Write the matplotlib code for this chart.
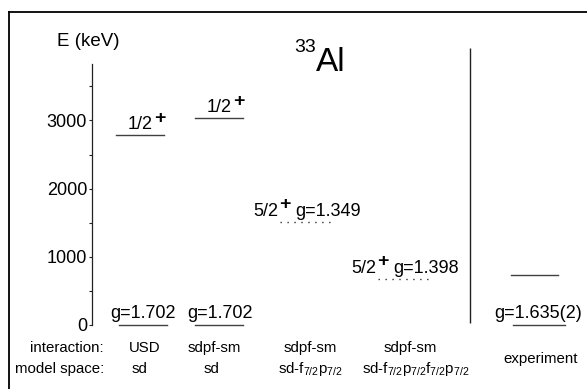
import matplotlib.pyplot as plt
from matplotlib.lines import Line2D

plt.rcParams['font.family'] = ['Liberation Sans', 'DejaVu Sans']
plt.rcParams['mathtext.fontset'] = 'custom'
plt.rcParams['mathtext.rm'] = 'Liberation Sans'
plt.rcParams['mathtext.it'] = 'Liberation Sans'

# level scheme of 33Al
interactions = ["USD", "sdpf-sm", "sdpf-sm", "sdpf-sm"]
model_spaces = ["sd", "sd", r"sd-f$_{7/2}$p$_{7/2}$",
                r"sd-f$_{7/2}$p$_{7/2}$f$_{7/2}$p$_{7/2}$"]
spins = ["1/2", "1/2", "5/2", "5/2", None]
excited_e = [2780, 3030, 1510, 670, 730]        # keV
g_factors = ["1.702", "1.702", "1.349", "1.398", "1.635(2)"]
ground_drawn = [True, True, False, False, True]
yticks = [0, 1000, 2000, 3000]

# layout (x in pixels of the 587 px wide figure)
xs_exc = [(116, 164), (195, 243), (280, 331), (378, 432), (511, 558)]
xs_gnd = [(119, 167), (195, 243), None, None, (513, 565)]
g_x = [110, 187, None, None, 494]
dotted = [False, False, True, True, False]
x_inter = [145, 214, 310, 410]
x_model = [139, 212, 310, 416]

W, H = 587, 389
fig = plt.figure(figsize=(W / 100, H / 100), dpi=100)
ax = fig.add_axes([0, 0, 1, 1])
ax.set_facecolor('none')

# energy axis: 0 keV at y=324.5 px, 0.068 px per keV
y0, scale = 324.5, 0.068
ax.set_xlim(0, W)
ax.set_ylim((y0 - H) / scale, y0 / scale)


def fy(pix):
    return 1 - pix / H


for s in ['top', 'right', 'bottom']:
    ax.spines[s].set_visible(False)
ax.spines['left'].set_position(('data', 92))
ax.spines['left'].set_bounds(0, 3835)
ax.spines['left'].set_linewidth(0.9)
ax.spines['left'].set_color('#222222')
ax.set_xticks([])
ax.set_yticks(yticks)
ax.set_yticks([500, 1500, 2500, 3500], minor=True)
ax.tick_params(axis='y', which='both', direction='out', length=2.5,
               width=0.8, labelsize=13, pad=1, color='#222222')

# frame
fig.add_artist(Line2D([9 / W, 1], [fy(12), fy(12)], color='black', lw=1.3))
fig.add_artist(Line2D([9 / W, 9 / W], [fy(12), 0], color='black', lw=1.3))

tr = ax.get_xaxis_transform()
ax.text(57, fy(46), "E (keV)", transform=tr, fontsize=13.5, va='baseline')
ax.text(294, fy(52), "33", transform=tr, fontsize=14, va='baseline')
ax.text(316, fy(71), "Al", transform=tr, fontsize=24, va='baseline')

# separator between theory and experiment
ax.vlines(470, 20, (y0 - 48) / scale, color='#222222', lw=1.0)

lc = '#404040'
for i, e in enumerate(excited_e):
    x1, x2 = xs_exc[i]
    if dotted[i]:
        ax.plot([x1, x2], [e, e], color='#333333', lw=1.0, ls=(0, (1, 4)))
    else:
        ax.plot([x1, x2], [e, e], color=lc, lw=1.0)
    if ground_drawn[i]:
        gx1, gx2 = xs_gnd[i]
        ax.plot([gx1, gx2], [0, 0], color=lc, lw=1.0)
        ax.annotate("g=" + g_factors[i], (g_x[i], 0), xytext=(0, 4.5),
                    textcoords='offset points', fontsize=13, va='baseline')

    if spins[i] is None:
        continue
    x_lab = x1 + 12 if not dotted[i] else x1 - 27
    t = ax.annotate(spins[i], (x_lab, e), xytext=(0, 4.5),
                    textcoords='offset points', fontsize=13, va='baseline')
    p = ax.annotate("+", xy=(1, 0), xycoords=t, xytext=(0.5, 4.5),
                    textcoords='offset points', fontsize=14, va='bottom',
                    fontweight='bold')
    if dotted[i]:
        ax.annotate("g=" + g_factors[i], xy=(1, 0), xycoords=p,
                    xytext=(4, -4.5), textcoords='offset points',
                    fontsize=13, va='bottom')

ax.text(104, fy(352), "interaction:", transform=tr, ha='right',
        va='baseline', fontsize=10.8)
ax.text(104, fy(373), "model space:", transform=tr, ha='right',
        va='baseline', fontsize=10.8)
for x, s in zip(x_inter, interactions):
    ax.text(x, fy(352), s, transform=tr, ha='center', va='baseline',
            fontsize=10.8)
for x, s in zip(x_model, model_spaces):
    ax.text(x, fy(373), s, transform=tr, ha='center', va='baseline',
            fontsize=10.8)
ax.text(541, fy(363), "experiment", transform=tr, ha='center',
        va='baseline', fontsize=10.8)

fig.savefig("out.png", dpi=100)
